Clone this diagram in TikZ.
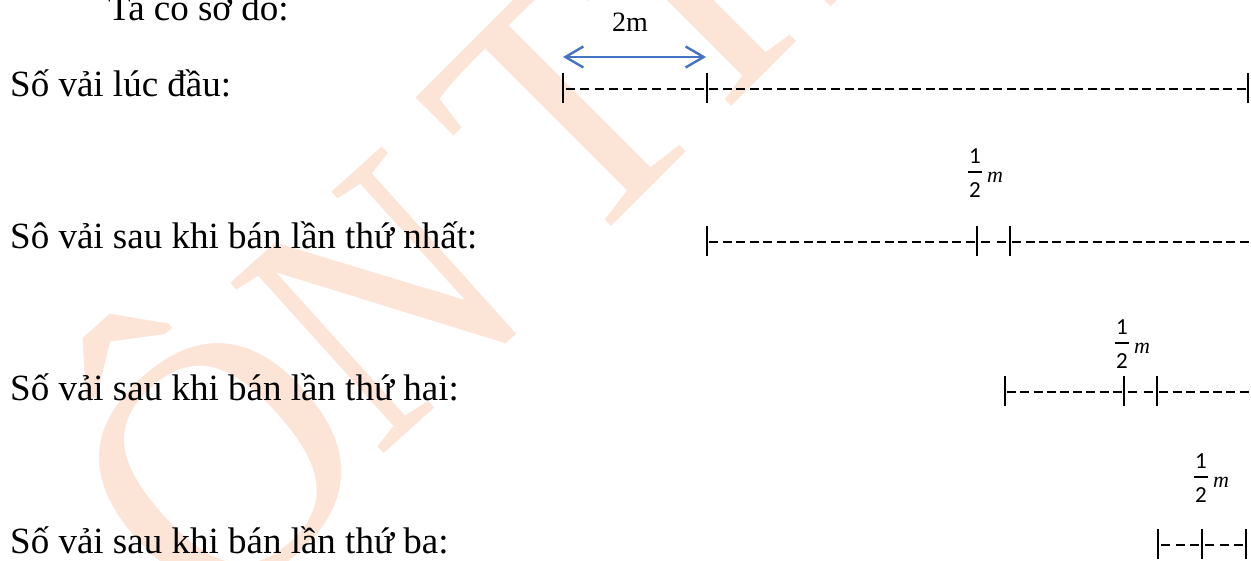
\documentclass[tikz,border=0pt]{standalone}
\usepackage{fontspec}
\setmainfont{Liberation Serif}
\newfontfamily\fracfont{Carlito}
\usetikzlibrary{arrows.meta}
\definecolor{wmark}{RGB}{252,228,214}
\definecolor{officeblue}{RGB}{68,114,196}
\tikzset{
  rowlabel/.style={anchor=base west, inner sep=0pt, font=\fontsize{37}{44}\selectfont},
  wm/.style={text=wmark, anchor=base west, inner sep=0pt,
    font=\fontsize{350}{350}\selectfont},
  tickbar/.style={line width=1.8pt},
  dashbit/.style={line width=2.6pt},
  dimarrow/.style={officeblue, line width=2.4pt,
    {Straight Barb[length=18pt,width=21pt]}-{Straight Barb[length=18pt,width=21pt]}},
  fracdigit/.style={inner sep=0pt, font=\fontsize{23}{23}\selectfont\fracfont},
  fracunit/.style={inner sep=0pt, font=\fontsize{22}{22}\selectfont\itshape},
  halfm/.pic={
    \node[fracdigit] (-num) at (0,-16) {1};
    \draw[line width=1.1pt] (-7,0) -- (7,0);
    \node[fracdigit] (-den) at (0,18) {2};
    \node[fracunit] (-unit) at (20,5) {m};
  }
}
% n evenly spaced dashes between x=#1 and x=#2 on the row at y=#4
\newcommand\dashrun[4]{%
  \pgfmathsetmacro\dperiod{((#2)-(#1))/(#3)}%
  \foreach \k in {1,...,#3}{%
    \pgfmathsetmacro\dstart{#1+\dperiod*(\k-0.5)-4.5}%
    \draw[dashbit] (\dstart,#4) -- ++(9,0);}}
% a vertical bar at x=#1 on the row at y=#2
\newcommand\barmark[2]{\draw[tickbar] (#1,#2-16) -- (#1,#2+14);}

\begin{document}
\begin{tikzpicture}[x=1pt,y=-1pt]
\path[use as bounding box] (0,0) rectangle (1251,561);
\clip (0,0) rectangle (1251,561);

% background watermark
\node[wm, rotate=42] (wmO) at (203,635) {Ô};
\node[wm, rotate=42, xscale=0.87] (wmN) at (377,460) {N};
\node[wm, rotate=45] (wmT) at (573,265) {THI};

% row captions
\node[rowlabel] (r0) at (108,21) {Ta có sơ đồ:};
\node[rowlabel] (r1) at (10,97) {Số vải lúc đầu:};
\node[rowlabel] (r2) at (10,249) {Sô vải sau khi bán lần thứ nhất:};
\node[rowlabel] (r3) at (10,401) {Số vải sau khi bán lần thứ hai:};
\node[rowlabel] (r4) at (10,553) {Số vải sau khi bán lần thứ ba:};

% row 1: whole piece, first 2 m marked
\coordinate (aL) at (563,57);
\coordinate (aR) at (706,57);
\draw[dimarrow] (aL) -- (aR);
\node[anchor=base, inner sep=0pt, font=\fontsize{28}{28}\selectfont] (lbl2m) at (630,32) {2m};
\barmark{563}{89}\barmark{707}{89}\barmark{1248}{89}
\dashrun{563}{707}{10}{89}
\dashrun{707}{1248}{40}{89}

% row 2
\barmark{707}{242}\barmark{977}{242}\barmark{1010}{242}
\dashrun{707}{977}{20}{242}
\dashrun{977}{1010}{2}{242}
\dashrun{1010}{1251}{18}{242}
\pic (h1) at (975,172) {halfm};

% row 3
\barmark{1005}{392}\barmark{1124}{392}\barmark{1157}{392}
\dashrun{1005}{1124}{9}{392}
\dashrun{1124}{1157}{2}{392}
\dashrun{1157}{1251}{7}{392}
\pic (h2) at (1122,343) {halfm};

% row 4
\barmark{1158}{545}\barmark{1202}{545}\barmark{1246}{545}
\dashrun{1158}{1202}{3}{545}
\dashrun{1202}{1246}{3}{545}
\pic (h3) at (1201,477) {halfm};
\end{tikzpicture}
\end{document}
